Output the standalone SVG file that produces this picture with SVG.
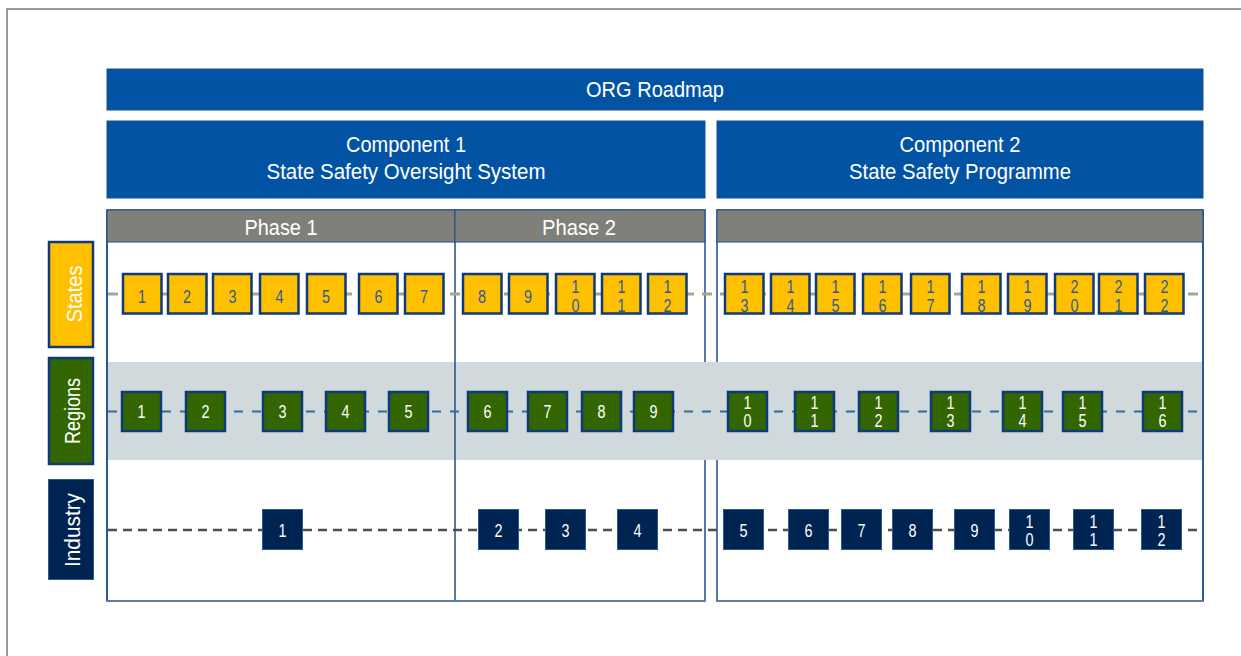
<svg xmlns="http://www.w3.org/2000/svg" width="1241" height="656" viewBox="0 0 1241 656">
<style>
.hdr{fill:#0353A4;stroke:#1B4F8E;stroke-width:1}
.htx{font-family:"Liberation Sans",Arial,sans-serif;font-size:22px;fill:#fff;text-anchor:middle}
.ph{fill:#80807A;stroke:#1F4E8C;stroke-width:1}
.pan{fill:#fff;stroke:#1F4E8C;stroke-width:1.5}
.vl{stroke:#1F4E8C;stroke-width:1.5}
.num{font-family:"Liberation Sans",Arial,sans-serif;font-size:18px;text-anchor:middle}
.st rect{fill:#FFC000;stroke:#0F3A7A;stroke-width:2.5}
.st text{fill:#2F5A96}
.rg rect{fill:#336600;stroke:#0F3A7A;stroke-width:2.5}
.rg text{fill:#fff}
.in rect{fill:#002452;stroke:#2E5A94;stroke-width:1}
.in text{fill:#fff}
.lab{font-family:"Liberation Sans",Arial,sans-serif;font-size:22px;fill:#fff;text-anchor:middle}
</style>
<rect x="0" y="0" width="1241" height="656" fill="#fff"/>
<rect x="7" y="9" width="1300" height="700" fill="none" stroke="#7A7A7A" stroke-width="1.5"/>

<g id="org-roadmap"><rect class="hdr" x="107" y="69" width="1096" height="41"/><text class="htx" x="655" y="97" textLength="138" lengthAdjust="spacingAndGlyphs">ORG Roadmap</text></g>
<g id="component-1"><rect class="hdr" x="107" y="121" width="598" height="77"/><text class="htx" x="406" y="152" textLength="120" lengthAdjust="spacingAndGlyphs">Component 1</text><text class="htx" x="406" y="179" textLength="279" lengthAdjust="spacingAndGlyphs">State Safety Oversight System</text></g>
<g id="component-2"><rect class="hdr" x="717" y="121" width="486" height="77"/><text class="htx" x="960" y="152" textLength="121" lengthAdjust="spacingAndGlyphs">Component 2</text><text class="htx" x="960" y="179" textLength="222" lengthAdjust="spacingAndGlyphs">State Safety Programme</text></g>

<g id="panels">
<rect class="pan" x="107" y="210" width="598" height="391"/>
<rect class="pan" x="717" y="210" width="486" height="391"/>
<rect fill="#D0D9DC" x="108" y="362" width="1094" height="98"/>
<line class="vl" x1="107" y1="210" x2="107" y2="601"/>
<line class="vl" x1="455" y1="210" x2="455" y2="601"/>
<line class="vl" x1="1203" y1="210" x2="1203" y2="601"/>
<line x1="107" y1="601" x2="705" y2="601" stroke="#5B7FAF" stroke-width="2"/>
<line x1="717" y1="601" x2="1203" y2="601" stroke="#5B7FAF" stroke-width="2"/>
</g>
<g id="phase-1"><rect class="ph" x="107" y="210" width="348" height="32"/><text class="htx" x="281" y="235" font-size="21" textLength="73" lengthAdjust="spacingAndGlyphs">Phase 1</text></g>
<g id="phase-2"><rect class="ph" x="455" y="210" width="250" height="32"/><text class="htx" x="579" y="235" font-size="21" textLength="74" lengthAdjust="spacingAndGlyphs">Phase 2</text></g>
<g id="phase-3"><rect class="ph" x="717" y="210" width="486" height="32"/></g>

<g id="label-states"><rect x="49" y="242" width="44" height="105" fill="#FFC000" stroke="#0F3A7A" stroke-width="2.5"/><text class="lab" transform="translate(81.5,294) rotate(-90)" textLength="57" lengthAdjust="spacingAndGlyphs">States</text></g>
<g id="label-regions"><rect x="49" y="358" width="44" height="106" fill="#336600" stroke="#0F3A7A" stroke-width="2.5"/><text class="lab" transform="translate(80,411) rotate(-90)" textLength="66" lengthAdjust="spacingAndGlyphs">Regions</text></g>
<g id="label-industry"><rect x="48.5" y="479.5" width="45" height="100" fill="#002452" stroke="#2E5A94" stroke-width="1"/><text class="lab" transform="translate(80,530) rotate(-90)" textLength="74" lengthAdjust="spacingAndGlyphs">Industry</text></g>

<g id="connectors" fill="none">
<line x1="108" y1="294" x2="1200" y2="294" stroke="#9DAC88" stroke-width="3" stroke-dasharray="10 8"/>
<line x1="108" y1="411.5" x2="1200" y2="411.5" stroke="#2E6FA0" stroke-width="2" stroke-dasharray="9 9"/>
<line x1="108" y1="530" x2="1203" y2="530" stroke="#4D4D4D" stroke-width="2.5" stroke-dasharray="9 6"/>
</g>

<g class="st num">
<g id="s1"><rect x="123" y="274" width="38.5" height="39.5"/><text x="142" y="303" textLength="8" lengthAdjust="spacingAndGlyphs">1</text></g>
<g id="s2"><rect x="168" y="274" width="38.5" height="39.5"/><text x="187" y="303" textLength="8" lengthAdjust="spacingAndGlyphs">2</text></g>
<g id="s3"><rect x="213" y="274" width="38.5" height="39.5"/><text x="232.5" y="303" textLength="8" lengthAdjust="spacingAndGlyphs">3</text></g>
<g id="s4"><rect x="260" y="274" width="38.5" height="39.5"/><text x="279.5" y="303" textLength="8" lengthAdjust="spacingAndGlyphs">4</text></g>
<g id="s5"><rect x="307" y="274" width="38.5" height="39.5"/><text x="326" y="303" textLength="8" lengthAdjust="spacingAndGlyphs">5</text></g>
<g id="s6"><rect x="359" y="274" width="38.5" height="39.5"/><text x="378.5" y="303" textLength="8" lengthAdjust="spacingAndGlyphs">6</text></g>
<g id="s7"><rect x="405" y="274" width="38.5" height="39.5"/><text x="424" y="303" textLength="8" lengthAdjust="spacingAndGlyphs">7</text></g>
<g id="s8"><rect x="463" y="274" width="38.5" height="39.5"/><text x="482" y="303" textLength="8" lengthAdjust="spacingAndGlyphs">8</text></g>
<g id="s9"><rect x="509" y="274" width="38.5" height="39.5"/><text x="528" y="303" textLength="8" lengthAdjust="spacingAndGlyphs">9</text></g>
<g id="s10"><rect x="556" y="274" width="38.5" height="39.5"/><text><tspan x="575.5" y="293" textLength="8" lengthAdjust="spacingAndGlyphs">1</tspan><tspan x="575.5" y="312" textLength="8" lengthAdjust="spacingAndGlyphs">0</tspan></text></g>
<g id="s11"><rect x="602" y="274" width="38.5" height="39.5"/><text><tspan x="621.5" y="293" textLength="8" lengthAdjust="spacingAndGlyphs">1</tspan><tspan x="621.5" y="312" textLength="8" lengthAdjust="spacingAndGlyphs">1</tspan></text></g>
<g id="s12"><rect x="648" y="274" width="38.5" height="39.5"/><text><tspan x="667.5" y="293" textLength="8" lengthAdjust="spacingAndGlyphs">1</tspan><tspan x="667.5" y="312" textLength="8" lengthAdjust="spacingAndGlyphs">2</tspan></text></g>
<g id="s13"><rect x="725" y="274" width="38.5" height="39.5"/><text><tspan x="744.5" y="293" textLength="8" lengthAdjust="spacingAndGlyphs">1</tspan><tspan x="744.5" y="312" textLength="8" lengthAdjust="spacingAndGlyphs">3</tspan></text></g>
<g id="s14"><rect x="771" y="274" width="38.5" height="39.5"/><text><tspan x="790.5" y="293" textLength="8" lengthAdjust="spacingAndGlyphs">1</tspan><tspan x="790.5" y="312" textLength="8" lengthAdjust="spacingAndGlyphs">4</tspan></text></g>
<g id="s15"><rect x="816" y="274" width="38.5" height="39.5"/><text><tspan x="835.5" y="293" textLength="8" lengthAdjust="spacingAndGlyphs">1</tspan><tspan x="835.5" y="312" textLength="8" lengthAdjust="spacingAndGlyphs">5</tspan></text></g>
<g id="s16"><rect x="863" y="274" width="38.5" height="39.5"/><text><tspan x="882.5" y="293" textLength="8" lengthAdjust="spacingAndGlyphs">1</tspan><tspan x="882.5" y="312" textLength="8" lengthAdjust="spacingAndGlyphs">6</tspan></text></g>
<g id="s17"><rect x="911" y="274" width="38.5" height="39.5"/><text><tspan x="930.5" y="293" textLength="8" lengthAdjust="spacingAndGlyphs">1</tspan><tspan x="930.5" y="312" textLength="8" lengthAdjust="spacingAndGlyphs">7</tspan></text></g>
<g id="s18"><rect x="962" y="274" width="38.5" height="39.5"/><text><tspan x="981.5" y="293" textLength="8" lengthAdjust="spacingAndGlyphs">1</tspan><tspan x="981.5" y="312" textLength="8" lengthAdjust="spacingAndGlyphs">8</tspan></text></g>
<g id="s19"><rect x="1008" y="274" width="38.5" height="39.5"/><text><tspan x="1027.5" y="293" textLength="8" lengthAdjust="spacingAndGlyphs">1</tspan><tspan x="1027.5" y="312" textLength="8" lengthAdjust="spacingAndGlyphs">9</tspan></text></g>
<g id="s20"><rect x="1055" y="274" width="38.5" height="39.5"/><text><tspan x="1074.5" y="293" textLength="8" lengthAdjust="spacingAndGlyphs">2</tspan><tspan x="1074.5" y="312" textLength="8" lengthAdjust="spacingAndGlyphs">0</tspan></text></g>
<g id="s21"><rect x="1099" y="274" width="38.5" height="39.5"/><text><tspan x="1118.5" y="293" textLength="8" lengthAdjust="spacingAndGlyphs">2</tspan><tspan x="1118.5" y="312" textLength="8" lengthAdjust="spacingAndGlyphs">1</tspan></text></g>
<g id="s22"><rect x="1145" y="274" width="38.5" height="39.5"/><text><tspan x="1164.5" y="293" textLength="8" lengthAdjust="spacingAndGlyphs">2</tspan><tspan x="1164.5" y="312" textLength="8" lengthAdjust="spacingAndGlyphs">2</tspan></text></g>
</g>

<g class="rg num">
<g id="r1"><rect x="122" y="392" width="39" height="39"/><text x="141.5" y="418" textLength="8" lengthAdjust="spacingAndGlyphs">1</text></g>
<g id="r2"><rect x="186" y="392" width="39" height="39"/><text x="205.5" y="418" textLength="8" lengthAdjust="spacingAndGlyphs">2</text></g>
<g id="r3"><rect x="263" y="392" width="39" height="39"/><text x="282.5" y="418" textLength="8" lengthAdjust="spacingAndGlyphs">3</text></g>
<g id="r4"><rect x="326" y="392" width="39" height="39"/><text x="345.5" y="418" textLength="8" lengthAdjust="spacingAndGlyphs">4</text></g>
<g id="r5"><rect x="389" y="392" width="39" height="39"/><text x="408.5" y="418" textLength="8" lengthAdjust="spacingAndGlyphs">5</text></g>
<g id="r6"><rect x="468" y="392" width="39" height="39"/><text x="487.5" y="418" textLength="8" lengthAdjust="spacingAndGlyphs">6</text></g>
<g id="r7"><rect x="528" y="392" width="39" height="39"/><text x="547.5" y="418" textLength="8" lengthAdjust="spacingAndGlyphs">7</text></g>
<g id="r8"><rect x="582" y="392" width="39" height="39"/><text x="601.5" y="418" textLength="8" lengthAdjust="spacingAndGlyphs">8</text></g>
<g id="r9"><rect x="634" y="392" width="39" height="39"/><text x="653.5" y="418" textLength="8" lengthAdjust="spacingAndGlyphs">9</text></g>
<g id="r10"><rect x="728" y="392" width="39" height="39"/><text><tspan x="747.5" y="409" textLength="8" lengthAdjust="spacingAndGlyphs">1</tspan><tspan x="747.5" y="427" textLength="8" lengthAdjust="spacingAndGlyphs">0</tspan></text></g>
<g id="r11"><rect x="795" y="392" width="39" height="39"/><text><tspan x="814.5" y="409" textLength="8" lengthAdjust="spacingAndGlyphs">1</tspan><tspan x="814.5" y="427" textLength="8" lengthAdjust="spacingAndGlyphs">1</tspan></text></g>
<g id="r12"><rect x="859" y="392" width="39" height="39"/><text><tspan x="878.5" y="409" textLength="8" lengthAdjust="spacingAndGlyphs">1</tspan><tspan x="878.5" y="427" textLength="8" lengthAdjust="spacingAndGlyphs">2</tspan></text></g>
<g id="r13"><rect x="931" y="392" width="39" height="39"/><text><tspan x="950.5" y="409" textLength="8" lengthAdjust="spacingAndGlyphs">1</tspan><tspan x="950.5" y="427" textLength="8" lengthAdjust="spacingAndGlyphs">3</tspan></text></g>
<g id="r14"><rect x="1003" y="392" width="39" height="39"/><text><tspan x="1022.5" y="409" textLength="8" lengthAdjust="spacingAndGlyphs">1</tspan><tspan x="1022.5" y="427" textLength="8" lengthAdjust="spacingAndGlyphs">4</tspan></text></g>
<g id="r15"><rect x="1063" y="392" width="39" height="39"/><text><tspan x="1082.5" y="409" textLength="8" lengthAdjust="spacingAndGlyphs">1</tspan><tspan x="1082.5" y="427" textLength="8" lengthAdjust="spacingAndGlyphs">5</tspan></text></g>
<g id="r16"><rect x="1143" y="392" width="39" height="39"/><text><tspan x="1162.5" y="409" textLength="8" lengthAdjust="spacingAndGlyphs">1</tspan><tspan x="1162.5" y="427" textLength="8" lengthAdjust="spacingAndGlyphs">6</tspan></text></g>
</g>

<g class="in num">
<g id="i1"><rect x="262.5" y="509.5" width="40" height="40"/><text x="282.5" y="537" textLength="8" lengthAdjust="spacingAndGlyphs">1</text></g>
<g id="i2"><rect x="478.5" y="509.5" width="40" height="40"/><text x="498.5" y="537" textLength="8" lengthAdjust="spacingAndGlyphs">2</text></g>
<g id="i3"><rect x="545.5" y="509.5" width="40" height="40"/><text x="565.5" y="537" textLength="8" lengthAdjust="spacingAndGlyphs">3</text></g>
<g id="i4"><rect x="617.5" y="509.5" width="40" height="40"/><text x="637.5" y="537" textLength="8" lengthAdjust="spacingAndGlyphs">4</text></g>
<g id="i5"><rect x="723.5" y="509.5" width="40" height="40"/><text x="743.5" y="537" textLength="8" lengthAdjust="spacingAndGlyphs">5</text></g>
<g id="i6"><rect x="788.5" y="509.5" width="40" height="40"/><text x="808.5" y="537" textLength="8" lengthAdjust="spacingAndGlyphs">6</text></g>
<g id="i7"><rect x="841.5" y="509.5" width="40" height="40"/><text x="861.5" y="537" textLength="8" lengthAdjust="spacingAndGlyphs">7</text></g>
<g id="i8"><rect x="892.5" y="509.5" width="40" height="40"/><text x="912.5" y="537" textLength="8" lengthAdjust="spacingAndGlyphs">8</text></g>
<g id="i9"><rect x="954.5" y="509.5" width="40" height="40"/><text x="974.5" y="537" textLength="8" lengthAdjust="spacingAndGlyphs">9</text></g>
<g id="i10"><rect x="1009.5" y="509.5" width="40" height="40"/><text><tspan x="1029.5" y="528" textLength="8" lengthAdjust="spacingAndGlyphs">1</tspan><tspan x="1029.5" y="546" textLength="8" lengthAdjust="spacingAndGlyphs">0</tspan></text></g>
<g id="i11"><rect x="1073.5" y="509.5" width="40" height="40"/><text><tspan x="1093.5" y="528" textLength="8" lengthAdjust="spacingAndGlyphs">1</tspan><tspan x="1093.5" y="546" textLength="8" lengthAdjust="spacingAndGlyphs">1</tspan></text></g>
<g id="i12"><rect x="1141.5" y="509.5" width="40" height="40"/><text><tspan x="1161.5" y="528" textLength="8" lengthAdjust="spacingAndGlyphs">1</tspan><tspan x="1161.5" y="546" textLength="8" lengthAdjust="spacingAndGlyphs">2</tspan></text></g>
</g>
</svg>
